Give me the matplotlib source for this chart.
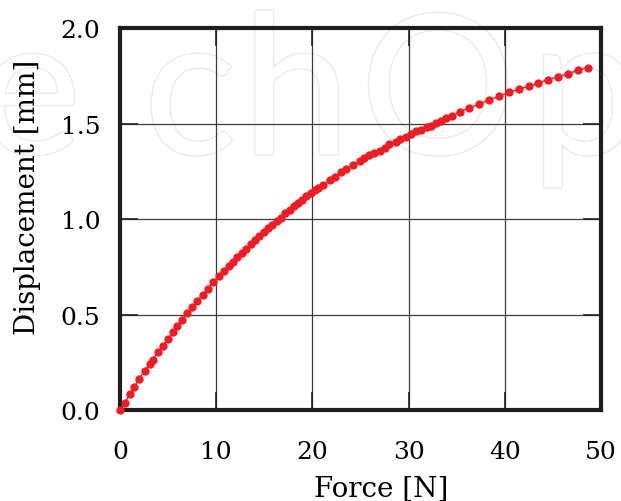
import matplotlib
matplotlib.use('Agg')
from matplotlib import pyplot as plt
from matplotlib import patheffects

# measured force / displacement pairs
force = [0.0, 0.5, 1.05, 1.5, 2.0, 2.55, 3.1, 3.4, 3.95, 4.45,
         5.0, 5.5, 5.95, 6.4, 6.95, 7.5, 8.05, 8.6, 9.15, 9.7,
         10.3, 10.8, 11.3, 11.75, 12.2, 12.7, 13.15, 13.6, 14.05, 14.5,
         14.95, 15.4, 15.85, 16.3, 16.75, 17.2, 17.65, 18.1, 18.5, 18.9,
         19.35, 19.85, 20.3, 20.6, 21.1, 21.8, 22.3, 23.0, 23.5, 24.2,
         24.9, 25.4, 25.9, 26.45, 27.0, 27.5, 28.0, 28.65, 29.1, 29.7,
         30.3, 30.8, 31.3, 31.9, 32.35, 32.9, 33.4, 33.9, 34.5, 35.3,
         36.3, 37.3, 38.4, 39.4, 40.4, 41.45, 42.5, 43.5, 44.5, 45.5,
         46.6, 47.6, 48.6]
displacement = [0.0, 0.040, 0.085, 0.124, 0.166, 0.207, 0.243, 0.265, 0.303, 0.338,
                0.374, 0.410, 0.443, 0.472, 0.508, 0.541, 0.574, 0.606, 0.637, 0.670,
                0.703, 0.728, 0.755, 0.778, 0.800, 0.823, 0.846, 0.868, 0.889, 0.912,
                0.933, 0.953, 0.972, 0.990, 1.008, 1.030, 1.050, 1.068, 1.085, 1.102,
                1.119, 1.139, 1.154, 1.163, 1.181, 1.204, 1.221, 1.247, 1.261, 1.282,
                1.302, 1.320, 1.334, 1.346, 1.359, 1.373, 1.391, 1.403, 1.417, 1.432,
                1.446, 1.459, 1.469, 1.480, 1.490, 1.502, 1.514, 1.530, 1.542, 1.560,
                1.583, 1.602, 1.625, 1.642, 1.663, 1.681, 1.695, 1.713, 1.730, 1.744,
                1.761, 1.779, 1.792]

x_ticks = [0, 10, 20, 30, 40, 50]
y_ticks = [0.0, 0.5, 1.0, 1.5, 2.0]

plt.rcParams['font.family'] = ['DejaVu Serif']

fig = plt.figure(figsize=(6.21, 5.02), dpi=100)

# faint publisher watermark, letter by letter
mark_letters = ['e', 'c', 'h', 'O', 'p']
mark_x = [30, 190, 296, 438, 585]
for ch, px in zip(mark_letters, mark_x):
    fig.text(px / 621, 1 - 155 / 502, ch, fontsize=140, family='Lato',
             ha='center', va='baseline', color='white', zorder=-5,
             path_effects=[patheffects.withStroke(linewidth=2.2, foreground='#ececec')])

ax = fig.add_axes([0.1932, 0.1805, 0.7746, 0.7617])
ax.set_facecolor('none')

ax.plot(force, displacement, color='#ee1c25', marker='o', markersize=5,
        linestyle='-', linewidth=1, zorder=3, clip_on=False)

ax.set_xlim(0, 50)
ax.set_ylim(0, 2.0)
ax.set_xticks(x_ticks)
ax.set_yticks(y_ticks)
ax.set_yticklabels([f'{v:.1f}' for v in y_ticks])
ax.grid(True, color='#3c3c3c', linewidth=0.9)
ax.tick_params(direction='in', length=13, width=1.2, color='#222222',
               top=True, right=True, labelsize=18)
ax.tick_params(axis='x', pad=21)
ax.tick_params(axis='y', pad=14)
for s in ax.spines.values():
    s.set_linewidth(3)
    s.set_color('#1e1e1e')

ax.set_xlabel('Force [N]', fontsize=20)
ax.set_ylabel('Displacement [mm]', fontsize=20)
ax.xaxis.set_label_coords(0.544, -0.168)
ax.yaxis.set_label_coords(-0.165, 0.56)

plt.savefig('out.png', dpi=100)
